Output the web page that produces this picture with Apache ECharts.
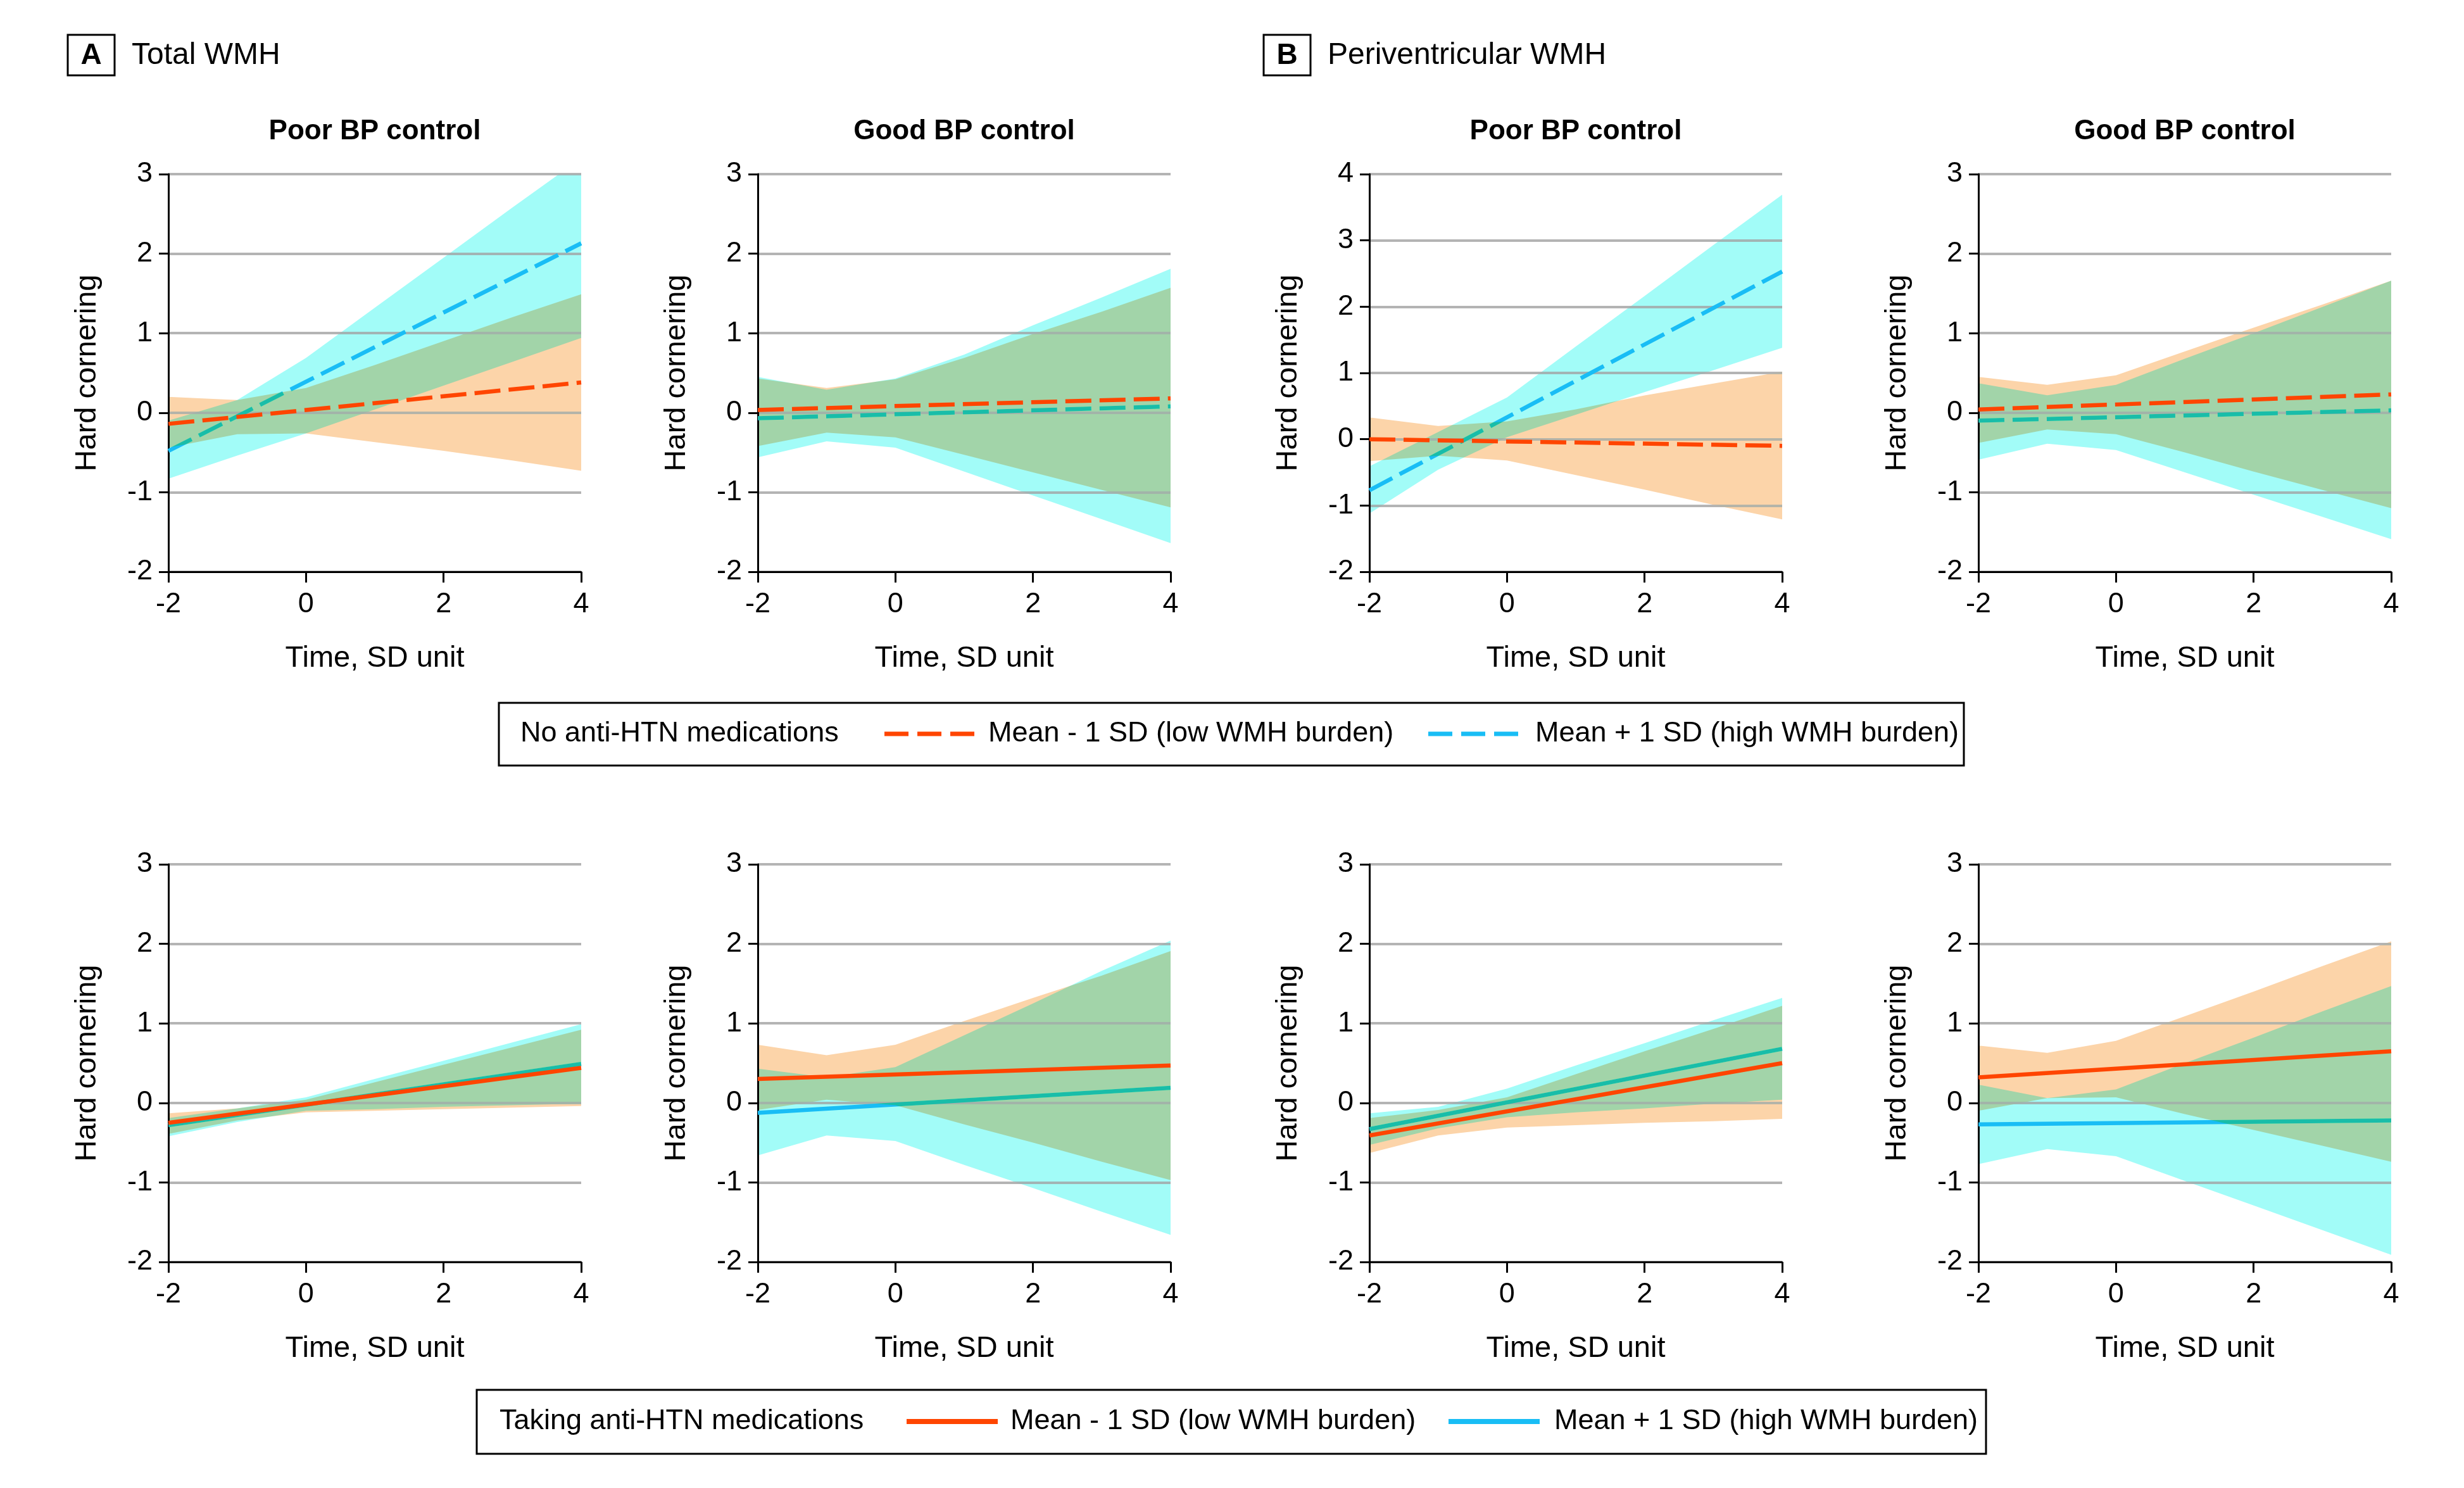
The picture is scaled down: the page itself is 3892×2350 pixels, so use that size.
<!DOCTYPE html>
<html>
<head>
<meta charset="utf-8">
<script src="https://cdn.jsdelivr.net/npm/echarts@6/dist/echarts.min.js"></script>
<style>
  html, body { margin: 0; padding: 0; background: #fff; }
  #chart { width: 3892px; height: 2350px; }
  /* the two band layers keep the darker of their colour and what lies below them */
  #chart canvas[data-zr-dom-id="zr_1"],
  #chart canvas[data-zr-dom-id="zr_3"] { mix-blend-mode: darken; }
</style>
</head>
<body>
<div id="chart"></div>
<script>
// x positions of the confidence band vertices and of the fitted lines
var bandXs = [-2, -1, 0, 1, 2, 3, 4];
var lineXs = [-2, 4];

// A, poor BP control, no anti-HTN medications
var aPoorNoLow = [-0.14, 0.38];
var aPoorNoHigh = [-0.48, 2.13];
var aPoorNoLowLo = [-0.44, -0.27, -0.26, -0.37, -0.48, -0.60, -0.73];
var aPoorNoLowHi = [0.20, 0.16, 0.31, 0.60, 0.90, 1.20, 1.49];
var aPoorNoHighLo = [-0.83, -0.54, -0.26, 0.04, 0.34, 0.64, 0.94];
var aPoorNoHighHi = [-0.10, 0.16, 0.69, 1.32, 1.95, 2.58, 3.20];

// A, good BP control, no anti-HTN medications
var aGoodNoLow = [0.035, 0.18];
var aGoodNoHigh = [-0.07, 0.08];
var aGoodNoLowLo = [-0.42, -0.25, -0.31, -0.53, -0.75, -0.97, -1.19];
var aGoodNoLowHi = [0.43, 0.31, 0.42, 0.69, 0.99, 1.27, 1.57];
var aGoodNoHighLo = [-0.56, -0.36, -0.44, -0.74, -1.04, -1.34, -1.64];
var aGoodNoHighHi = [0.45, 0.29, 0.43, 0.73, 1.10, 1.45, 1.81];

// B, poor BP control, no anti-HTN medications
var bPoorNoLow = [0.0, -0.10];
var bPoorNoHigh = [-0.77, 2.53];
var bPoorNoLowLo = [-0.33, -0.25, -0.32, -0.54, -0.76, -0.99, -1.21];
var bPoorNoLowHi = [0.33, 0.20, 0.27, 0.45, 0.66, 0.84, 1.02];
var bPoorNoHighLo = [-1.12, -0.46, 0.03, 0.37, 0.71, 1.04, 1.38];
var bPoorNoHighHi = [-0.41, 0.11, 0.63, 1.40, 2.16, 2.93, 3.69];

// B, good BP control, no anti-HTN medications
var bGoodNoLow = [0.04, 0.23];
var bGoodNoHigh = [-0.10, 0.03];
var bGoodNoLowLo = [-0.38, -0.21, -0.27, -0.50, -0.74, -0.97, -1.20];
var bGoodNoLowHi = [0.45, 0.35, 0.47, 0.77, 1.07, 1.36, 1.66];
var bGoodNoHighLo = [-0.59, -0.39, -0.47, -0.75, -1.03, -1.31, -1.59];
var bGoodNoHighHi = [0.37, 0.22, 0.35, 0.68, 1.00, 1.33, 1.66];

// A, poor BP control, taking anti-HTN medications
var aPoorMedLow = [-0.25, 0.44];
var aPoorMedHigh = [-0.28, 0.49];
var aPoorMedLowLo = [-0.39, -0.22, -0.12, -0.10, -0.08, -0.06, -0.04];
var aPoorMedLowHi = [-0.13, -0.07, 0.04, 0.26, 0.48, 0.70, 0.92];
var aPoorMedHighLo = [-0.42, -0.24, -0.10, -0.08, -0.05, -0.03, -0.01];
var aPoorMedHighHi = [-0.19, -0.07, 0.07, 0.30, 0.53, 0.76, 0.99];

// A, good BP control, taking anti-HTN medications
var aGoodMedLow = [0.30, 0.47];
var aGoodMedHigh = [-0.125, 0.19];
var aGoodMedLowLo = [-0.09, 0.04, -0.03, -0.27, -0.50, -0.74, -0.97];
var aGoodMedLowHi = [0.73, 0.60, 0.73, 1.03, 1.32, 1.60, 1.91];
var aGoodMedHighLo = [-0.66, -0.41, -0.48, -0.78, -1.07, -1.37, -1.66];
var aGoodMedHighHi = [0.43, 0.32, 0.45, 0.85, 1.25, 1.66, 2.04];

// B, poor BP control, taking anti-HTN medications
var bPoorMedLow = [-0.41, 0.50];
var bPoorMedHigh = [-0.33, 0.68];
var bPoorMedLowLo = [-0.63, -0.41, -0.31, -0.28, -0.25, -0.23, -0.20];
var bPoorMedLowHi = [-0.19, -0.09, 0.07, 0.36, 0.65, 0.93, 1.22];
var bPoorMedHighLo = [-0.53, -0.32, -0.18, -0.12, -0.07, -0.01, 0.04];
var bPoorMedHighHi = [-0.13, -0.05, 0.18, 0.47, 0.75, 1.04, 1.32];

// B, good BP control, taking anti-HTN medications
var bGoodMedLow = [0.32, 0.65];
var bGoodMedHigh = [-0.27, -0.22];
var bGoodMedLowLo = [-0.10, 0.06, 0.07, -0.14, -0.34, -0.54, -0.74];
var bGoodMedLowHi = [0.72, 0.63, 0.78, 1.09, 1.40, 1.72, 2.03];
var bGoodMedHighLo = [-0.77, -0.58, -0.67, -0.98, -1.29, -1.60, -1.91];
var bGoodMedHighHi = [0.23, 0.06, 0.17, 0.50, 0.82, 1.15, 1.47];

var lowLabel = 'Mean - 1 SD (low WMH burden)';
var highLabel = 'Mean + 1 SD (high WMH burden)';

var FONT = "'Liberation Sans', Arial, sans-serif";
var ORANGE = '#FF4500';
var BLUE = '#19BDF5';
var ORANGE_BAND = '#FCD4A9';
var BLUE_BAND = '#A2FCF8';
var DASH = [41, 13];
var LEGEND_DASH = [38, 14];

// layout of the 8 panels
var colLeft = [266, 1197, 2163, 3125];
var rowTop = [275, 1365];
var panelW = 652;
var panelH = 628;

var panels = [
    {row: 0, col: 0, yMax: 3, med: false, low: aPoorNoLow, high: aPoorNoHigh, lowLo: aPoorNoLowLo, lowHi: aPoorNoLowHi, highLo: aPoorNoHighLo, highHi: aPoorNoHighHi},
    {row: 0, col: 1, yMax: 3, med: false, low: aGoodNoLow, high: aGoodNoHigh, lowLo: aGoodNoLowLo, lowHi: aGoodNoLowHi, highLo: aGoodNoHighLo, highHi: aGoodNoHighHi},
    {row: 0, col: 2, yMax: 4, med: false, low: bPoorNoLow, high: bPoorNoHigh, lowLo: bPoorNoLowLo, lowHi: bPoorNoLowHi, highLo: bPoorNoHighLo, highHi: bPoorNoHighHi},
    {row: 0, col: 3, yMax: 3, med: false, low: bGoodNoLow, high: bGoodNoHigh, lowLo: bGoodNoLowLo, lowHi: bGoodNoLowHi, highLo: bGoodNoHighLo, highHi: bGoodNoHighHi},
    {row: 1, col: 0, yMax: 3, med: true, low: aPoorMedLow, high: aPoorMedHigh, lowLo: aPoorMedLowLo, lowHi: aPoorMedLowHi, highLo: aPoorMedHighLo, highHi: aPoorMedHighHi},
    {row: 1, col: 1, yMax: 3, med: true, low: aGoodMedLow, high: aGoodMedHigh, lowLo: aGoodMedLowLo, lowHi: aGoodMedLowHi, highLo: aGoodMedHighLo, highHi: aGoodMedHighHi},
    {row: 1, col: 2, yMax: 3, med: true, low: bPoorMedLow, high: bPoorMedHigh, lowLo: bPoorMedLowLo, lowHi: bPoorMedLowHi, highLo: bPoorMedHighLo, highHi: bPoorMedHighHi},
    {row: 1, col: 3, yMax: 3, med: true, low: bGoodMedLow, high: bGoodMedHigh, lowLo: bGoodMedLowLo, lowHi: bGoodMedLowHi, highLo: bGoodMedHighLo, highHi: bGoodMedHighHi}
];

/**
 * Confidence band drawn as one polygon on its own layer
 */
function bandSeries(idx, lo, hi, color, layer) {
    return {
        type: 'custom',
        xAxisIndex: idx,
        yAxisIndex: idx,
        zlevel: layer,
        silent: true,
        data: bandXs.map(function (x, k) { return [x, lo[k], hi[k]]; }),
        encode: {x: 0, y: [1, 2]},
        renderItem: function (params, api) {
            if (params.dataIndex !== 0) {
                return null;
            }
            var pts = [];
            for (var k = 0; k < bandXs.length; k++) {
                pts.push(api.coord([bandXs[k], hi[k]]));
            }
            for (var j = bandXs.length - 1; j >= 0; j--) {
                pts.push(api.coord([bandXs[j], lo[j]]));
            }
            var cs = params.coordSys;
            return {
                type: 'polygon',
                shape: {points: pts},
                style: {fill: color},
                clipPath: {type: 'rect', shape: {x: cs.x, y: cs.y, width: cs.width, height: cs.height}}
            };
        }
    };
}

function lineSeries(idx, name, values, color, dashed, layer) {
    return {
        type: 'line',
        name: name,
        xAxisIndex: idx,
        yAxisIndex: idx,
        zlevel: layer,
        data: lineXs.map(function (x, k) { return [x, values[k]]; }),
        symbol: 'none',
        silent: true,
        lineStyle: {color: color, width: 6.5, type: dashed ? DASH : 'solid', cap: 'butt'},
        itemStyle: {color: color}
    };
}

var grids = [], xAxes = [], yAxes = [], series = [];
var axisText = {color: '#000', fontFamily: FONT};

panels.forEach(function (p, i) {
    grids.push({left: colLeft[p.col], top: rowTop[p.row], width: panelW, height: panelH});
    xAxes.push({
        gridIndex: i, type: 'value', min: -2, max: 4, interval: 2,
        name: 'Time, SD unit', nameLocation: 'middle', nameGap: 114,
        nameTextStyle: Object.assign({fontSize: 47}, axisText),
        axisLine: {onZero: false, lineStyle: {color: '#000', width: 3}},
        axisTick: {length: 17, lineStyle: {color: '#000', width: 3}},
        axisLabel: Object.assign({fontSize: 45, margin: 29}, axisText),
        splitLine: {show: false}
    });
    yAxes.push({
        gridIndex: i, type: 'value', min: -2, max: p.yMax, interval: 1,
        name: 'Hard cornering', nameLocation: 'middle', nameGap: 104,
        nameTextStyle: Object.assign({fontSize: 47}, axisText),
        axisLine: {show: true, onZero: false, lineStyle: {color: '#000', width: 3}},
        axisTick: {show: true, length: 15, lineStyle: {color: '#000', width: 3}},
        axisLabel: Object.assign({fontSize: 45, margin: 25}, axisText),
        splitLine: {show: true, lineStyle: {color: '#B4B4B4', width: 4}}
    });
    // draw order: high band, high line, low band (over the high line), low line
    series.push(bandSeries(i, p.highLo, p.highHi, BLUE_BAND, 1));
    series.push(lineSeries(i, highLabel, p.high, BLUE, !p.med, 2));
    series.push(bandSeries(i, p.lowLo, p.lowHi, ORANGE_BAND, 3));
    series.push(lineSeries(i, lowLabel, p.low, ORANGE, !p.med, 4));
});

function text(x, y, str, size, weight, align) {
    return {
        type: 'text', x: x, y: y, silent: true,
        style: {text: str, fontSize: size, fontWeight: weight || 'normal', fontFamily: FONT,
            fill: '#000', align: align || 'left', verticalAlign: 'middle'}
    };
}

function box(x, y, w, h) {
    return {type: 'rect', silent: true, shape: {x: x, y: y, width: w, height: h},
        style: {fill: 'none', stroke: '#000', lineWidth: 3}};
}

function swatch(x, y, w, color, dashed) {
    return {type: 'line', silent: true, shape: {x1: x, y1: y, x2: x + w, y2: y},
        style: {stroke: color, lineWidth: dashed ? 7 : 8, lineDash: dashed ? LEGEND_DASH : null}};
}

var graphics = [
    box(107, 55, 74, 64), text(144, 88, 'A', 46, 'bold', 'center'), text(208, 88, 'Total WMH', 48),
    box(1996, 55, 74, 64), text(2033, 88, 'B', 46, 'bold', 'center'), text(2097, 88, 'Periventricular WMH', 48),
    text(colLeft[0] + panelW / 2, 208, 'Poor BP control', 44, 'bold', 'center'),
    text(colLeft[1] + panelW / 2, 208, 'Good BP control', 44, 'bold', 'center'),
    text(colLeft[2] + panelW / 2, 208, 'Poor BP control', 44, 'bold', 'center'),
    text(colLeft[3] + panelW / 2, 208, 'Good BP control', 44, 'bold', 'center'),
    // legend for the panels without medication
    box(788, 1110, 2314, 99), text(822, 1159, 'No anti-HTN medications', 45),
    swatch(1397, 1159, 142, ORANGE, true), text(1561, 1159, lowLabel, 45),
    swatch(2256, 1159, 142, BLUE, true), text(2425, 1159, highLabel, 45),
    // legend for the panels with medication
    box(753, 2195, 2384, 101), text(789, 2245, 'Taking anti-HTN medications', 45),
    swatch(1432, 2245, 144, ORANGE, false), text(1596, 2245, lowLabel, 45),
    swatch(2288, 2245, 144, BLUE, false), text(2455, 2245, highLabel, 45)
];

var myChart = echarts.init(document.getElementById('chart'));
myChart.setOption({
    backgroundColor: '#fff',
    animation: false,
    textStyle: {fontFamily: FONT},
    grid: grids,
    xAxis: xAxes,
    yAxis: yAxes,
    graphic: graphics,
    series: series
});
</script>
</body>
</html>
